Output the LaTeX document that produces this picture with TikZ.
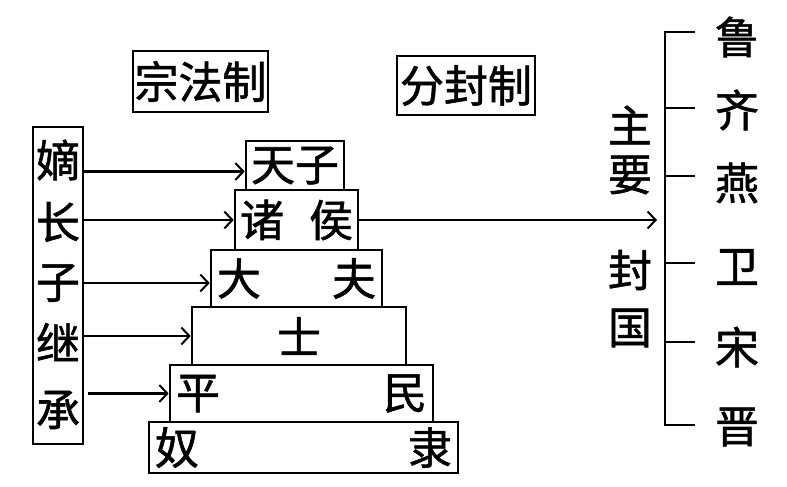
\documentclass[tikz,border=0pt]{standalone}
\usepackage{fontspec}
\setmainfont{Noto Sans CJK SC}[FakeBold=1.2]
\usetikzlibrary{arrows.meta}
\newcommand\tierpair[3]{\hbox to #1{#2\hfill #3}}
\begin{document}
\begin{tikzpicture}[x=1pt,y=-1pt,
  box/.style={draw, line width=2.6pt, inner sep=0pt},
  big/.style={font=\fontsize{44}{44}\selectfont, inner sep=0pt},
  tier/.style={box, big},
  arr/.style={line width=2.2pt, -{Straight Barb[length=8pt,width=17pt,line width=2pt]}},
  brk/.style={line width=2.6pt}]
\useasboundingbox[fill=white] (0,0) rectangle (787,487);
% title boxes
\node[box, big, minimum width=135pt, minimum height=61pt] (zf) at (200.5,81.5) {宗法制};
\node[box, big, minimum width=138pt, minimum height=59pt] (ff) at (466,85.5) {分封制};
% pyramid
\node[tier, minimum width=309pt, minimum height=51pt] (nl) at (303.5,447.5) {\tierpair{297pt}{奴}{隶}};
\node[tier, minimum width=263pt, minimum height=57pt] (pm) at (301.5,393.5) {\tierpair{251pt}{平}{民}};
\node[tier, minimum width=214pt, minimum height=58pt] (shi) at (299,336) {士};
\node[tier, minimum width=171pt, minimum height=57pt] (df) at (296.5,278.5) {\tierpair{159pt}{大}{夫}};
\node[tier, minimum width=123pt, minimum height=60pt] (zh) at (296.5,220) {\tierpair{113pt}{诸}{侯}};
\node[tier, minimum width=98pt, minimum height=49pt] (tz) at (295,165.5) {天子};
% left box
\node[box, minimum width=50pt, minimum height=317pt] (lb) at (58,285.5) {};
\node[big] (l1) at (58,160) {嫡};
\node[big] (l2) at (58,222) {长};
\node[big] (l3) at (58,283) {子};
\node[big] (l4) at (58,342) {继};
\node[big] (l5) at (58,410) {承};
% arrows
\draw[arr] ([yshift=-6pt]tz.west -| lb.east) -- ([yshift=-6pt]tz.west);
\draw[arr] (zh.west -| lb.east) -- (zh.west);
\draw[arr] ([yshift=-4.5pt]df.west -| lb.east) -- ([yshift=-4.5pt]df.west);
\draw[arr] (shi.west -| lb.east) -- (shi.west);
\draw[arr, shorten <=4pt] (pm.west -| lb.east) -- (pm.west);
% bracket
\coordinate (b0) at (665,32);  \coordinate (t0) at (695,32);
\coordinate (b1) at (665,108); \coordinate (t1) at (695,108);
\coordinate (b2) at (665,176); \coordinate (t2) at (695,176);
\coordinate (b3) at (665,263); \coordinate (t3) at (695,263);
\coordinate (b4) at (665,342); \coordinate (t4) at (695,342);
\coordinate (b5) at (665,425); \coordinate (t5) at (695,425);
\coordinate (bm) at (665,222);
\draw[brk] (t0) -- (b0) -- (b5) -- (t5);
\draw[brk] (b1) -- (t1);
\draw[brk] (b2) -- (t2);
\draw[brk] (b3) -- (t3);
\draw[brk] (b4) -- (t4);
\draw[arr, shorten >=8pt] (zh.east) -- (zh.east -| bm);
% right labels
\node[big] (r1) at (737,37) {鲁};
\node[big] (r2) at (737,110) {齐};
\node[big] (r3) at (737,183) {燕};
\node[big] (r4) at (737,267) {卫};
\node[big] (r5) at (737,347) {宋};
\node[big] (r6) at (737,427) {晋};
\node[big] (m1) at (630,125) {主};
\node[big] (m2) at (630,175) {要};
\node[big] (m3) at (630,270) {封};
\node[big] (m4) at (630,328) {国};
\end{tikzpicture}
\end{document}
